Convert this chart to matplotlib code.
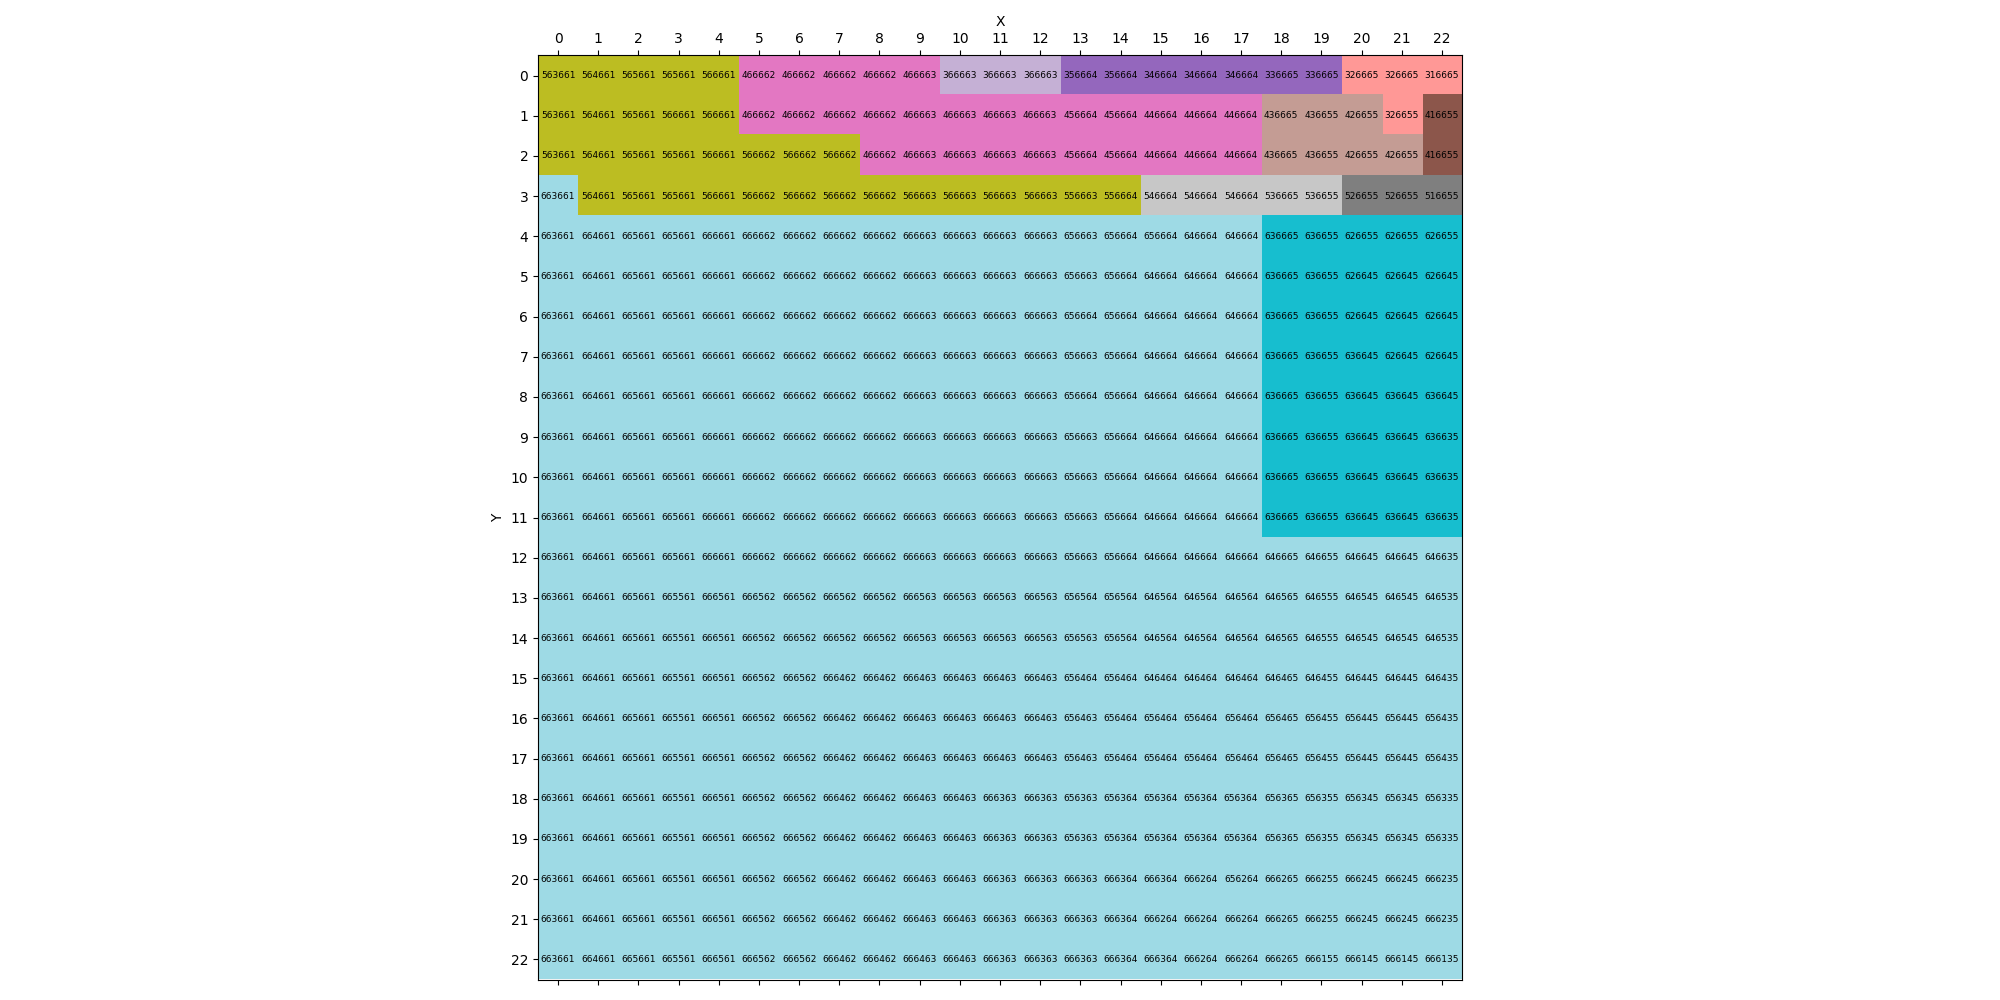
import numpy as np
import matplotlib
matplotlib.use("Agg")
import matplotlib.pyplot as plt
from matplotlib.colors import ListedColormap, BoundaryNorm

# grid codes, one string per row (row 0 at top), 23 columns each
codes = [
    "563661 564661 565661 565661 566661 466662 466662 466662 466662 466663 366663 366663 366663 356664 356664 346664 346664 346664 336665 336665 326665 326665 316665",
    "563661 564661 565661 566661 566661 466662 466662 466662 466662 466663 466663 466663 466663 456664 456664 446664 446664 446664 436665 436655 426655 326655 416655",
    "563661 564661 565661 565661 566661 566662 566662 566662 466662 466663 466663 466663 466663 456664 456664 446664 446664 446664 436665 436655 426655 426655 416655",
    "663661 564661 565661 565661 566661 566662 566662 566662 566662 566663 566663 566663 566663 556663 556664 546664 546664 546664 536665 536655 526655 526655 516655",
    "663661 664661 665661 665661 666661 666662 666662 666662 666662 666663 666663 666663 666663 656663 656664 656664 646664 646664 636665 636655 626655 626655 626655",
    "663661 664661 665661 665661 666661 666662 666662 666662 666662 666663 666663 666663 666663 656663 656664 646664 646664 646664 636665 636655 626645 626645 626645",
    "663661 664661 665661 665661 666661 666662 666662 666662 666662 666663 666663 666663 666663 656664 656664 646664 646664 646664 636665 636655 626645 626645 626645",
    "663661 664661 665661 665661 666661 666662 666662 666662 666662 666663 666663 666663 666663 656663 656664 646664 646664 646664 636665 636655 636645 626645 626645",
    "663661 664661 665661 665661 666661 666662 666662 666662 666662 666663 666663 666663 666663 656664 656664 646664 646664 646664 636665 636655 636645 636645 636645",
    "663661 664661 665661 665661 666661 666662 666662 666662 666662 666663 666663 666663 666663 656663 656664 646664 646664 646664 636665 636655 636645 636645 636635",
    "663661 664661 665661 665661 666661 666662 666662 666662 666662 666663 666663 666663 666663 656663 656664 646664 646664 646664 636665 636655 636645 636645 636635",
    "663661 664661 665661 665661 666661 666662 666662 666662 666662 666663 666663 666663 666663 656663 656664 646664 646664 646664 636665 636655 636645 636645 636635",
    "663661 664661 665661 665661 666661 666662 666662 666662 666662 666663 666663 666663 666663 656663 656664 646664 646664 646664 646665 646655 646645 646645 646635",
    "663661 664661 665661 665561 666561 666562 666562 666562 666562 666563 666563 666563 666563 656564 656564 646564 646564 646564 646565 646555 646545 646545 646535",
    "663661 664661 665661 665561 666561 666562 666562 666562 666562 666563 666563 666563 666563 656563 656564 646564 646564 646564 646565 646555 646545 646545 646535",
    "663661 664661 665661 665561 666561 666562 666562 666462 666462 666463 666463 666463 666463 656464 656464 646464 646464 646464 646465 646455 646445 646445 646435",
    "663661 664661 665661 665561 666561 666562 666562 666462 666462 666463 666463 666463 666463 656463 656464 656464 656464 656464 656465 656455 656445 656445 656435",
    "663661 664661 665661 665561 666561 666562 666562 666462 666462 666463 666463 666463 666463 656463 656464 656464 656464 656464 656465 656455 656445 656445 656435",
    "663661 664661 665661 665561 666561 666562 666562 666462 666462 666463 666463 666363 666363 656363 656364 656364 656364 656364 656365 656355 656345 656345 656335",
    "663661 664661 665661 665561 666561 666562 666562 666462 666462 666463 666463 666363 666363 656363 656364 656364 656364 656364 656365 656355 656345 656345 656335",
    "663661 664661 665661 665561 666561 666562 666562 666462 666462 666463 666463 666363 666363 666363 666364 666364 666264 656264 666265 666255 666245 666245 666235",
    "663661 664661 665661 665561 666561 666562 666562 666462 666462 666463 666463 666363 666363 666363 666364 666264 666264 666264 666265 666255 666245 666245 666235",
    "663661 664661 665661 665561 666561 666562 666562 666462 666462 666463 666463 666363 666363 666363 666364 666364 666264 666264 666265 666155 666145 666145 666135",
]

# first two digits of a code -> colour group
groups = {
    "31": 0, "32": 0,
    "33": 1, "34": 1, "35": 1,
    "36": 2,
    "41": 3,
    "42": 4, "43": 4,
    "44": 5, "45": 5, "46": 5,
    "51": 6, "52": 6,
    "53": 7, "54": 7,
    "55": 8, "56": 8,
    "62": 9, "63": 9,
    "64": 10, "65": 10, "66": 10,
}
group_colors = ["#ff9896", "#9467bd", "#c5b0d5", "#8c564b", "#c49c94", "#e377c2",
                "#7f7f7f", "#c7c7c7", "#bcbd22", "#17becf", "#9edae5"]


def main():
    grid = [row.split() for row in codes]
    n_rows, n_cols = len(grid), len(grid[0])
    cat = np.array([[groups[c[:2]] for c in row] for row in grid])

    cmap = ListedColormap(group_colors)
    norm = BoundaryNorm(np.arange(len(group_colors) + 1) - 0.5, cmap.N)

    fig = plt.figure(figsize=(20, 10), dpi=100)
    ax = fig.add_axes([0.269, 0.02, 0.462, 0.925])
    ax.imshow(cat, cmap=cmap, norm=norm, aspect="equal", interpolation="nearest")

    for i in range(n_rows):
        for j in range(n_cols):
            ax.text(j, i, grid[i][j], ha="center", va="center",
                    fontsize=6.5, color="black")

    ax.set_xticks(range(n_cols))
    ax.set_yticks(range(n_rows))
    ax.tick_params(top=True, labeltop=True, bottom=True, labelbottom=False)
    ax.xaxis.set_label_position("top")
    ax.set_xlabel("X")
    ax.set_ylabel("Y")

    fig.savefig("out.png", dpi=100)


if __name__ == "__main__":
    main()
